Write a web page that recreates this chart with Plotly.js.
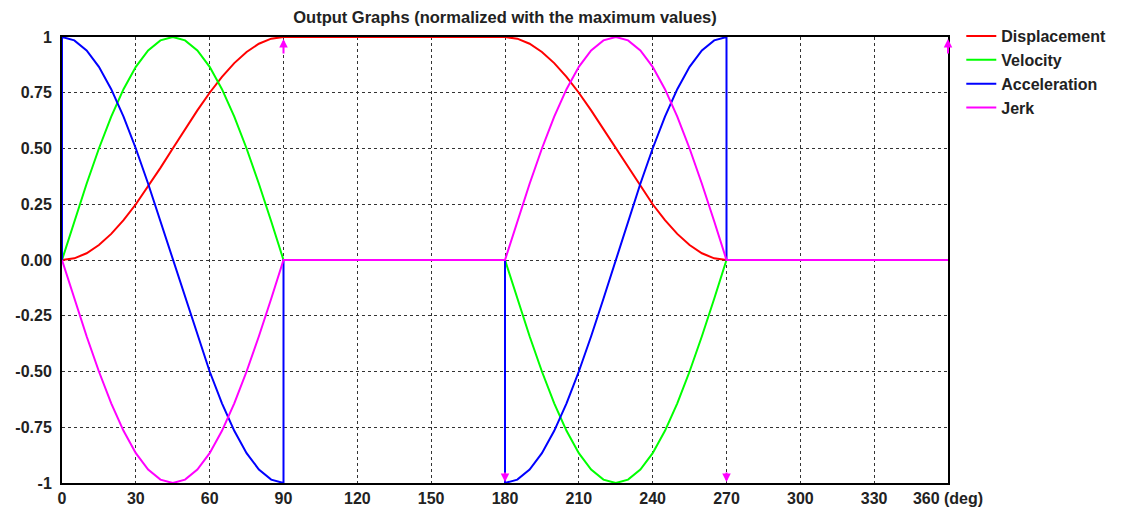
<!DOCTYPE html>
<html>
<head>
<meta charset="utf-8">
<script src="https://cdn.plot.ly/plotly-3.0.1.min.js"></script>
<style>html,body{margin:0;padding:0;background:#fff;}#chart{width:1124px;height:513px;}</style>
</head>
<body>
<div id="chart"></div>
<script>
// Angle (deg) sample points for displacement, velocity, jerk
const deg = [0,5,10,15,20,25,30,35,40,45,50,55,60,65,70,75,80,85,90,
             180,185,190,195,200,205,210,215,220,225,230,235,240,245,250,255,260,265,270,
             360];
const displacement = [0,0.0076,0.0302,0.067,0.117,0.1786,0.25,0.329,0.4132,0.5,0.5868,0.671,0.75,0.8214,0.883,0.933,0.9698,0.9924,1,
             1,0.9924,0.9698,0.933,0.883,0.8214,0.75,0.671,0.5868,0.5,0.4132,0.329,0.25,0.1786,0.117,0.067,0.0302,0.0076,0,
             0];
const velocity = [0,0.1736,0.342,0.5,0.6428,0.766,0.866,0.9397,0.9848,1,0.9848,0.9397,0.866,0.766,0.6428,0.5,0.342,0.1736,0,
             0,-0.1736,-0.342,-0.5,-0.6428,-0.766,-0.866,-0.9397,-0.9848,-1,-0.9848,-0.9397,-0.866,-0.766,-0.6428,-0.5,-0.342,-0.1736,0,
             0];
const jerk = [0,-0.1736,-0.342,-0.5,-0.6428,-0.766,-0.866,-0.9397,-0.9848,-1,-0.9848,-0.9397,-0.866,-0.766,-0.6428,-0.5,-0.342,-0.1736,0,
             0,0.1736,0.342,0.5,0.6428,0.766,0.866,0.9397,0.9848,1,0.9848,0.9397,0.866,0.766,0.6428,0.5,0.342,0.1736,0,
             0];
// Acceleration has jumps at 0, 90, 180, 270 deg
const accDeg = [0,0,5,10,15,20,25,30,35,40,45,50,55,60,65,70,75,80,85,90,90,
             180,180,185,190,195,200,205,210,215,220,225,230,235,240,245,250,255,260,265,270,270,
             360];
const acceleration = [0,1,0.9848,0.9397,0.866,0.766,0.6428,0.5,0.342,0.1736,0,-0.1736,-0.342,-0.5,-0.6428,-0.766,-0.866,-0.9397,-0.9848,-1,0,
             0,-1,-0.9848,-0.9397,-0.866,-0.766,-0.6428,-0.5,-0.342,-0.1736,0,0.1736,0.342,0.5,0.6428,0.766,0.866,0.9397,0.9848,1,0,
             0];

const xTickVals = [0,30,60,90,120,150,180,210,240,270,300,330,360];
const xTickText = ['0','30','60','90','120','150','180','210','240','270','300','330','360 (deg)'];
const yTickVals = [1,0.75,0.5,0.25,0,-0.25,-0.5,-0.75,-1];
const yTickText = ['1','0.75','0.50','0.25','0.00','-0.25','-0.50','-0.75','-1'];
const arrowsUp = [90,360];
const arrowsDown = [180,270];

const FONT = 'Liberation Sans, Arial, sans-serif';
function tr(name, x, y, color){
  return {type:'scatter', mode:'lines', name:name, x:x, y:y, cliponaxis:false,
          line:{color:color, width:2}, legendgroup:name};
}
const data = [
  tr('Displacement', deg, displacement, '#ff0000'),
  tr('Velocity', deg, velocity, '#00ff00'),
  tr('Acceleration', accDeg, acceleration, '#0000ff'),
  tr('Jerk', deg, jerk, '#ff00ff')
];

const annotations = [];
arrowsUp.forEach(v => annotations.push({x:v, y:1, xref:'x', yref:'y', text:'', showarrow:true,
  ax:0, ay:18, arrowhead:2, arrowsize:0.85, arrowwidth:2, arrowcolor:'#ff00ff', standoff:2}));
arrowsDown.forEach(v => annotations.push({x:v, y:-1, xref:'x', yref:'y', text:'', showarrow:true,
  ax:0, ay:-12, arrowhead:2, arrowsize:0.85, arrowwidth:2, arrowcolor:'#ff00ff', standoff:1}));

const layout = {
  width:1124, height:513,
  margin:{l:62, r:176, t:37, b:30},
  paper_bgcolor:'#fff', plot_bgcolor:'#fff',
  font:{family:FONT, size:16, color:'#222', weight:'bold'},
  title:{text:'Output Graphs (normalized with the maximum values)', x:0.5, xref:'paper', y:0.967, yanchor:'middle',
         font:{family:FONT, size:16.5, color:'#222', weight:'bold'}},
  xaxis:{range:[0,360], tickvals:xTickVals, ticktext:xTickText, showgrid:true, gridcolor:'#333', griddash:'3px,3px', gridwidth:1,
         zeroline:false, showline:true, linecolor:'#000', linewidth:2, mirror:true, ticks:'', layer:'below traces',
         tickfont:{family:FONT, size:16, color:'#222', weight:'bold'}, fixedrange:true},
  yaxis:{range:[-1,1], tickvals:yTickVals, ticktext:yTickText, showgrid:true, gridcolor:'#333', griddash:'3px,3px', gridwidth:1,
         zeroline:false, showline:true, linecolor:'#000', linewidth:2, mirror:true, ticks:'', layer:'below traces',
         ticklabelstandoff:5,
         tickfont:{family:FONT, size:16, color:'#222', weight:'bold'}, fixedrange:true},
  showlegend:true,
  legend:{x:1.015, xanchor:'left', y:1.04, yanchor:'top', bgcolor:'rgba(0,0,0,0)', borderwidth:0,
          font:{family:FONT, size:16, color:'#222', weight:'bold'}, tracegroupgap:0, itemwidth:30},
  annotations:annotations
};
Plotly.newPlot('chart', data, layout, {displayModeBar:false, staticPlot:true});
</script>
</body>
</html>
